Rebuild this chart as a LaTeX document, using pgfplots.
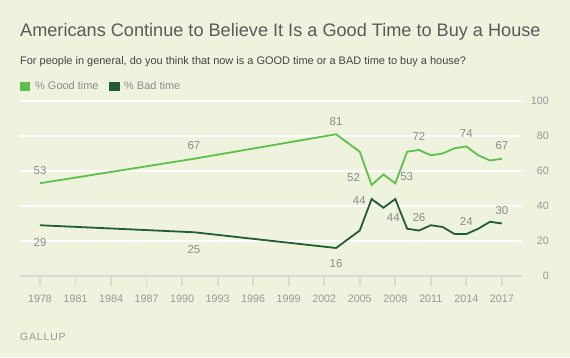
\documentclass[border=0pt]{standalone}
\usepackage{fontspec}
\setmainfont{Liberation Sans}
\newfontfamily\gallupfont[LetterSpace=8]{Liberation Sans}
\usepackage{pgfplots}
\pgfplotsset{compat=1.18}
\usepackage{pgfplotstable}
\definecolor{bg}{HTML}{EDF3DC}
\definecolor{good}{HTML}{5EBF4B}
\definecolor{bad}{HTML}{235B35}
\definecolor{lbl}{HTML}{8C8C8C}
\definecolor{tickc}{HTML}{999999}
\definecolor{titlec}{HTML}{5A5A5A}
\definecolor{subc}{HTML}{444444}
\definecolor{axc}{HTML}{D8D8D8}

\pgfplotstableread{
year val
1978 53
1991 67
2003 81
2005 71
2006 52
2007 58
2008 53
2009 71
2010 72
2011 69
2012 70
2013 73
2014 74
2015 69
2016 66
2017 67
}\goodtbl
\pgfplotstableread{
year val
1978 29
1991 25
2003 16
2005 26
2006 44
2007 39
2008 44
2009 27
2010 26
2011 29
2012 28
2013 24
2014 24
2015 27
2016 31
2017 30
}\badtbl
\pgfplotstableread{
year val label dx dy
1978 53 53 0 13
1991 67 67 0 13
2003 81 81 0 12.5
2006 52 52 -18 7
2008 53 53 11.4 7
2010 72 72 0 13
2014 74 74 0 12.5
2017 67 67 0 12.75
1978 29 29 0 -17
1991 25 25 0 -17
2003 16 16 0 -16
2006 44 44 -12.3 -2
2008 44 44 -2 -18.7
2010 26 26 0 12.5
2014 24 24 0 13
2017 30 30 0 12.5
}\labeltbl

\begin{document}
\begin{tikzpicture}[x=1bp,y=1bp]
\useasboundingbox (0,0) rectangle (570,357);
\fill[bg] (0,0) rectangle (570,357);
\node[anchor=base west, inner sep=0, text=titlec, font=\fontsize{18.2}{22}\selectfont] at (20,320.6) {Americans Continue to Believe It Is a Good Time to Buy a House};
\node[anchor=base west, inner sep=0, text=subc, font=\fontsize{11}{13}\selectfont] at (20,292.6) {For people in general, do you think that now is a GOOD time or a BAD time to buy a house?};
\fill[good] (20,266) rectangle (30,275);
\node[anchor=base west, inner sep=0, text=lbl, font=\fontsize{11}{13}\selectfont] at (35,267.2) {\% Good time};
\fill[bad] (109,266) rectangle (120,275);
\node[anchor=base west, inner sep=0, text=lbl, font=\fontsize{11}{13}\selectfont] at (124,267.2) {\% Bad time};
\node[anchor=base west, inner sep=0, text=tickc, font=\gallupfont\fontsize{10.5}{12}\selectfont] at (20,16.8) {GALLUP};
\begin{axis}[
  at={(20bp,81bp)}, anchor=south west,
  scale only axis, width=502bp, height=175bp,
  xmin=1976.31, xmax=2018.7, ymin=0, ymax=100,
  axis x line*=bottom, axis y line*=right,
  x axis line style={axc, line width=2bp},
  y axis line style={draw=none},
  xtick={1978,1981,...,2017},
  ytick={0,20,40,60,80,100},
  ymajorgrids, grid style={white, line width=1.8bp},
  tick align=outside,
  major tick length=10bp,
  x tick style={axc, line width=1.8bp},
  y tick style={draw=none},
  /pgf/number format/assume math mode=true,
  xticklabel style={/pgf/number format/1000 sep={}, text=tickc, font=\fontsize{10.8}{13}\selectfont, yshift=-5bp},
  yticklabel style={text=tickc, font=\fontsize{10.8}{13}\selectfont, anchor=east, inner sep=0pt, xshift=17bp},
  clip=false,
]
\addplot[good, line width=1.8bp, no markers] table[x=year,y=val] {\goodtbl};
\addplot[bad, line width=1.8bp, no markers] table[x=year,y=val] {\badtbl};
\addplot[draw=none, no markers, nodes near coords, point meta=explicit symbolic,
  visualization depends on={\thisrow{dx} \as \dx},
  visualization depends on={\thisrow{dy} \as \dy},
  nodes near coords style={anchor=center, inner sep=0pt, text=lbl, font=\fontsize{11.5}{13}\selectfont, xshift=\dx bp, yshift=\dy bp}]
  table[x=year,y=val,meta=label] {\labeltbl};
\end{axis}
\end{tikzpicture}
\end{document}
